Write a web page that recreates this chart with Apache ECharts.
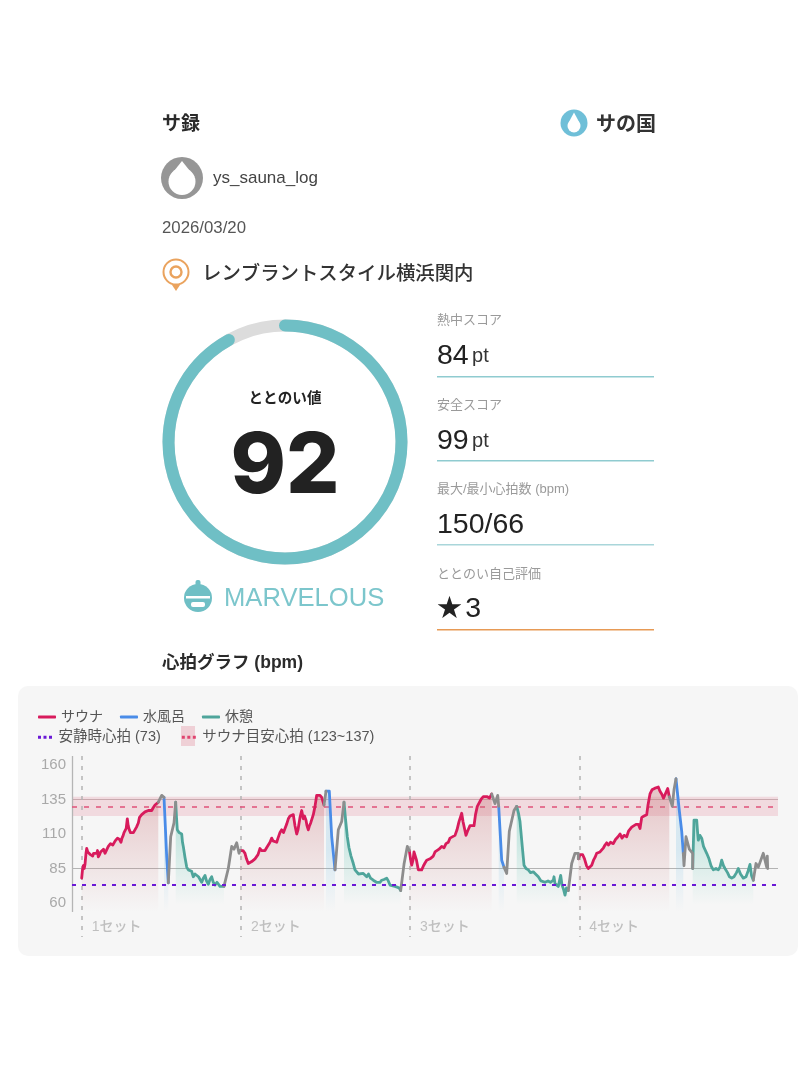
<!DOCTYPE html>
<html><head><meta charset="utf-8">
<style>html,body{margin:0;padding:0;background:#fff}#c{width:800px;height:1066px;filter:blur(0.5px)}</style>
<script src="https://cdn.jsdelivr.net/npm/echarts@6/dist/echarts.min.js"></script>
</head><body><div id="c"></div>
<script>
// values: [elapsed, bpm]
const sauna1=[[9.7,78],[10.5,84],[11.3,87],[12.2,85],[13,88],[14,96],[14.7,99.5],[15.8,97],[17.3,98],[18.5,95],[19.5,96],[20.7,94],[21.6,96],[22.5,95],[23.6,97],[24.7,96],[25.5,98],[26.3,93.5],[27.5,95],[28.6,97],[29.7,98],[30.6,96],[31.5,99],[32.3,98],[33,96],[34,95],[35,99],[36.3,101],[37.4,100],[38.5,103],[39.7,104],[40.8,102],[42,103],[43.2,105],[44.7,104],[45.5,107],[46.3,108],[47.6,106],[49,104],[50,107],[51.2,109],[52,111],[53,112],[54.2,114],[55.3,121],[56.2,116],[57.3,113],[58.5,111],[60,112],[61.4,111],[63,112],[64.5,115],[66.3,118],[67.5,122],[69.7,124],[71.2,125],[73,126],[74.6,125],[76.3,127],[78,126],[79.7,127],[81.2,129],[83,131],[84.6,130],[86.3,133]];
const sauna2=[[168,98],[169.5,97],[171,98],[173,96],[174.5,92],[176.3,88.6],[178,90],[179.7,90],[181,89],[183,92],[184.7,91.5],[186,95],[188,99.5],[189.5,98],[191,99],[193,98],[194.6,100],[196.3,101],[198,104],[199.7,107],[201,105],[202,106],[204.7,104],[206,107],[208,111],[209.7,113],[211.5,111],[213,112],[214.6,117],[216.3,121],[218,123],[220,122],[221.3,124],[223,116],[224.7,110],[226,113],[228,122],[229.7,127],[231.3,121],[232.5,123],[234,120],[235,116],[236.3,113],[237.5,116],[238.7,118],[240,117],[241.3,124],[243,130],[244.7,138],[246,137],[248,138],[249.7,136.5],[252,131]];
const sauna3=[[337.3,98],[338.5,92],[339.7,87.4],[341,91],[342,97],[343,98],[344.5,91],[346.3,84],[348,83],[349.7,84],[351.5,87],[353,89],[354.7,91],[356.5,90],[358,92],[359.7,91],[361.3,94],[363,97],[365,98],[367,99],[369.7,101],[372,100],[374,103],[376.3,104],[378,107],[380,106],[383,109],[385,113],[387,119],[389.7,125],[391,119],[392.5,114],[394,109],[395.5,112],[398,116],[400,115],[402,116],[403.5,124],[405.3,130],[407,131],[409,135],[411.3,137],[413,136],[415.3,137],[417.5,136],[419.7,139]];
const sauna4=[[506.3,92],[508,95],[509.5,94],[510.7,95],[512.5,92],[514.5,87],[516.3,85],[518,86],[519.7,87.4],[521.5,91],[523,93],[524.7,96],[526.5,95],[528,97],[529.7,98],[531.5,100],[533,102],[534.7,103.6],[536.5,102],[538.5,104],[541.3,103],[543.5,106],[546,108],[548,110],[550,107],[552,109],[554.7,108],[556.5,112],[558,113],[559.7,115],[561.5,116],[564,117],[566.3,117],[568,114],[569.7,122],[572,123],[574.7,124],[576,131],[578,139],[580,142],[582.5,143],[584.5,142],[586.3,144],[588,141],[589.7,139],[591.5,136],[593,137],[594.5,141],[595.7,143],[597.3,137]];
const cold1=[[92,136.5],[94.7,93.5],[96.3,74.6]];
const cold2=[[254,141],[257.3,141],[259.7,108],[263,84]];
const cold3=[[426.7,130],[429.7,91],[432,86]];
const cold4=[[604,150],[605.3,149.5],[607.3,127],[609.7,112],[611.3,96]];
const rest1=[[103.7,133],[104.5,122],[105.3,113],[107,111],[108.5,112],[109.7,110],[110.5,104],[111.3,101],[113,93],[114.7,86],[116.3,84],[118,82.6],[119.6,83],[121.3,79],[123,81],[124.7,82],[126.5,79],[128,78],[129.7,75],[131.3,78],[133,80],[134.5,76],[136.3,73.6],[138,77],[139.7,79],[141.3,75],[143,73],[145,75],[146.5,74],[148,72],[150,71],[152,72]];
const rest2=[[272,133],[273.5,121],[275.3,108],[277,100],[279,94],[281.3,88.6],[283,84],[284.7,82.6],[286.5,81],[288.5,80],[291.3,81.4],[293,80],[294.7,79],[296.5,81],[298.5,78],[301.3,76.5],[303,77],[304.5,75],[306.3,74],[308,75],[309.7,76.5],[312,77],[314.7,78],[316.3,76],[318,73],[320,74],[323,72],[325,73],[327,71],[328.7,69]];
const rest3=[[444.7,130],[446.5,125],[448,119],[450,103],[452,87.4],[454,85],[456.3,84],[458.5,82],[461.3,82.6],[463.5,81],[466.3,79],[469,76],[471,76],[473,75],[476,76],[478.5,75],[481.3,76.5],[482,79],[483,74],[484.5,73],[486.3,72],[487.5,76],[488.7,80],[490,73],[491.5,70],[493,65.7],[494.5,71],[496.3,69]];
const rest4=[[620.7,85],[622,120],[624.7,120],[625.5,112],[626.3,105.5],[628,109],[629.7,107],[631.5,101],[634.7,96],[637,92],[639,87],[641.3,84],[644,85],[646.3,84],[648,86],[649.7,91],[651.5,87],[653,85],[655.5,82],[657.5,79],[659.7,78],[662,79],[664.5,82],[666.3,85],[668.5,81],[671.3,78],[674,79],[676,83],[678,88],[679.5,80],[681.3,76.5]];
const transitions=[
 [[86.3,133],[89.7,138],[92,136.5]],
 [[96.3,74.6],[98.7,108],[102,118],[103.7,133]],
 [[152,72],[156.3,85],[159.7,101],[162,99],[164.7,103.6],[167,96],[168,98]],
 [[252,131],[254,141]],
 [[263,84],[266.3,113],[269.7,119],[272,133]],
 [[328.7,69],[332,88],[335.3,101],[337.3,98]],
 [[419.7,139],[423,132],[425.7,138],[426.7,130]],
 [[432,86],[434.7,81.4],[437.3,112],[442,127],[444.7,130]],
 [[496.3,69],[499.7,88.6],[503,96],[506.3,96],[506.3,92]],
 [[597.3,137],[600.3,130],[602,142],[604,150]],
 [[611.3,96],[612,87],[614,108],[617.3,99],[620.7,96],[620.7,85]],
 [[681.3,76.5],[684,88.6],[686.3,86],[691.3,96],[694.7,86],[695.3,94],[695.7,85]]
];
const setStarts=[9.7,169,338,507.3];
const setNames=['1セット','2セット','3セット','4セット'];
const yTicks=[60,85,110,135,160];
const restingHR=73, targetLow=123, targetMid=130, targetHigh=137;
const scoreValue=92, maxMin='150/66';

const FONT='"Liberation Sans","Noto Sans CJK JP",sans-serif';
const grad=(r,g,b,a,y1,y2)=>new echarts.graphic.LinearGradient(0,y1,0,y2,[{offset:0,color:`rgba(${r},${g},${b},${a})`},{offset:1,color:`rgba(${r},${g},${b},0)`}],true);
const seg=(name,data,color,fill)=>({type:'line',name,data,symbol:'none',showSymbol:false,z:5,
  lineStyle:{color,width:2.8,cap:'round',join:'round'},itemStyle:{color},
  areaStyle:fill?{color:fill,origin:53.5}:undefined,silent:true});
const series=[];
[sauna1,sauna2,sauna3,sauna4].forEach(d=>series.push(seg('サウナ',d,'#d81b5c',grad(200,110,115,.55,780,912))));
[cold1,cold2,cold3,cold4].forEach(d=>series.push(seg('水風呂',d,'#4a8ce8',grad(120,190,225,.35,850,912))));
[rest1,rest2,rest3,rest4].forEach(d=>series.push(seg('休憩',d,'#4fa59b',grad(80,190,170,.6,800,905))));
transitions.forEach(d=>series.push(seg('移行',d,'#8d8d8d')));
const V=(x,col,extra)=>[{coord:[x,166.5],lineStyle:Object.assign({color:col},extra)},{coord:[x,35.36]}];
series.push({type:'line',name:'guides',data:[],silent:true,z:3,
  markLine:{silent:true,symbol:'none',label:{show:false},animation:false,data:[
    {yAxis:85,lineStyle:{color:'#b3b3b3',type:'solid',width:1.2}},
    {yAxis:135,lineStyle:{color:'#c9a9ae',type:'solid',width:1.2}},
    [{coord:[0,166.5],lineStyle:{color:'#b5b5b5',type:'solid',width:1.3}},{coord:[0,53.5]}],
    ...setStarts.map(x=>V(x,'#b4b4b4',{type:[4,6],width:1.5}))
  ]}});
series.push({type:'line',name:'サウナ目安心拍 (123~137)',data:[],silent:true,z:4,itemStyle:{color:'#e0446f'},lineStyle:{color:'#e0446f'},
  markArea:{silent:true,animation:false,itemStyle:{color:'rgba(222,120,140,0.22)'},data:[[{yAxis:targetLow},{yAxis:targetHigh}]]},
  markLine:{silent:true,symbol:'none',label:{show:false},animation:false,lineStyle:{color:'#e0527a',type:[5,7],width:1.5},data:[{yAxis:targetMid}]}});
series.push({type:'line',name:'安静時心拍 (73)',data:[],silent:true,z:6,itemStyle:{color:'#6a18d6'},lineStyle:{color:'#6a18d6'},
  markLine:{silent:true,symbol:'none',z:6,label:{show:false},animation:false,lineStyle:{color:'#6a18d6',type:[4,6],width:2.2},data:[{yAxis:restingHR}]}});
series.push({type:'scatter',name:'setLabels',silent:true,z:6,symbolSize:0,data:setStarts.map((x,i)=>({value:[x,42.4],name:setNames[i]})),
  label:{show:true,position:'right',distance:10,formatter:p=>p.name,color:'#b2b2b2',fontSize:14,fontWeight:500,fontFamily:FONT}});
series.push({type:'gauge',center:[285,442],radius:122.5,startAngle:90,endAngle:-270,min:0,max:100,
  pointer:{show:false},axisTick:{show:false},splitLine:{show:false},axisLabel:{show:false},
  axisLine:{lineStyle:{width:12,color:[[1,'#dcdcdc']]}},
  progress:{show:true,width:12,roundCap:true,itemStyle:{color:'#6fbfc5'}},
  title:{offsetCenter:[0,-43],fontSize:14.6,fontWeight:600,color:'#222',fontFamily:FONT},
  detail:{offsetCenter:[0,26],fontSize:84,fontWeight:800,color:'#222',fontFamily:'Inter',formatter:'{value}'},
  animation:false,data:[{value:scoreValue,name:'ととのい値'}]});

const drop=(cx,top,w,h,fill)=>{const r=w/2,cy=top+h-r;return [
  {type:'circle',shape:{cx,cy,r},style:{fill}},
  {type:'polygon',shape:{points:[[cx,top],[cx-r*.93,cy-r*.36],[cx+r*.93,cy-r*.36]]},style:{fill}}];};
const t=(x,y,text,fs,fill,fw,extra)=>({type:'text',x,y:y+1.5,style:Object.assign({text,fontSize:fs,fill,fontWeight:fw||400,fontFamily:FONT,verticalAlign:'middle',align:'left'},extra||{})});
const scoreRows=[[319,'熱中スコア',355,'{a|84} {b|pt}',376,'#8fcbd0'],[404,'安全スコア',440,'{a|99} {b|pt}',460,'#8fcbd0'],[488,'最大/最小心拍数 (bpm)',524,'{a|'+maxMin+'}',544,'#a9d6da'],[573,'ととのい自己評価',608,'{s|★} {a|3}',629,'#e79a55']];
const gfx=[
 {type:'rect',z:-10,shape:{x:18,y:686,width:780,height:270,r:10},style:{fill:'#f6f6f6'}},
 t(162,123,'サ録',19,'#2b2b2b',700),
 {type:'circle',shape:{cx:574,cy:123,r:13.5},style:{fill:'#6fbfd8'}},
 ...drop(574,112.5,13,20,'#fff'),
 t(596,122,'サの国',20,'#333',700,{fontFamily:'"Noto Sans CJK JP"'}),
 {type:'circle',shape:{cx:182,cy:178,r:21},style:{fill:'#969696'}},
 ...drop(182,161,27,34,'#fff'),
 t(213,177,'ys_sauna_log',17,'#444',500),
 t(162,227,'2026/03/20',16.8,'#555'),
 {type:'circle',shape:{cx:176,cy:272,r:12.5},style:{fill:'#fff',stroke:'#eaa35e',lineWidth:2}},
 {type:'circle',shape:{cx:176,cy:272,r:5.5},style:{fill:'none',stroke:'#eaa35e',lineWidth:2.4}},
 {type:'polygon',shape:{points:[[172,285],[180,285],[176,291]]},style:{fill:'#eaa35e'}},
 t(202,273,'レンブラントスタイル横浜関内',19.4,'#333',500),
 {type:'circle',shape:{cx:198,cy:598,r:14},style:{fill:'#6fbfc5'}},
 {type:'rect',shape:{x:195.5,y:580,width:5,height:6,r:2},style:{fill:'#6fbfc5'}},
 {type:'rect',shape:{x:186,y:596,width:24,height:2.5},style:{fill:'#fff'}},
 {type:'rect',shape:{x:191,y:602,width:14,height:5,r:2},style:{fill:'#fff'}},
 t(224,597,'MARVELOUS',25.6,'#7cc6cc',400),
 t(162,662,'心拍グラフ (bpm)',17.5,'#2b2b2b',700),
 {type:'rect',shape:{x:181,y:726,width:14,height:20},style:{fill:'rgba(222,120,140,0.3)'}}
];
scoreRows.forEach(r=>{
  gfx.push(t(437,r[0],r[1],13,'#9a9a9a'));
  gfx.push({type:'text',x:437,y:r[2]+1,style:{text:r[3],fill:'#222',fontFamily:FONT,verticalAlign:'middle',
    rich:{a:{fontSize:28.5,fill:'#222',fontFamily:FONT,fontWeight:500},b:{fontSize:20,fill:'#333',fontFamily:FONT},s:{fontSize:25,fill:'#222',fontFamily:FONT}}}});
  gfx.push({type:'rect',shape:{x:437,y:r[4],width:217,height:1.5},style:{fill:r[5]}});
});

const chart=echarts.init(document.getElementById('c'),null,{renderer:'canvas',width:800,height:1066});
const DOTS='path://M0,0h3v3h-3zM5.5,0h3v3h-3zM11,0h3v3h-3z';
chart.setOption({
  animation:false,backgroundColor:'#fff',
  legend:[
   {left:38,top:710,padding:0,itemWidth:18,itemHeight:3,itemGap:17,icon:'roundRect',data:['サウナ','水風呂','休憩'],selectedMode:false,
    textStyle:{fontSize:14,color:'#555',fontFamily:FONT}},
   {left:38,top:730,padding:0,itemWidth:17,itemHeight:3,itemGap:21,icon:DOTS,data:['安静時心拍 (73)','サウナ目安心拍 (123~137)'],selectedMode:false,
    textStyle:{fontSize:14.5,color:'#555',fontFamily:FONT}}
  ],
  grid:{left:72,top:756,width:706,height:181},
  xAxis:{type:'value',min:0,max:706,show:false},
  yAxis:{type:'value',min:35.36,max:166.5,splitLine:{show:false},axisLine:{show:false},axisTick:{show:false},
    axisLabel:{customValues:yTicks,color:'#a9a9a9',fontSize:15,fontFamily:FONT,margin:6}},
  graphic:gfx,
  series
});
</script></body></html>
